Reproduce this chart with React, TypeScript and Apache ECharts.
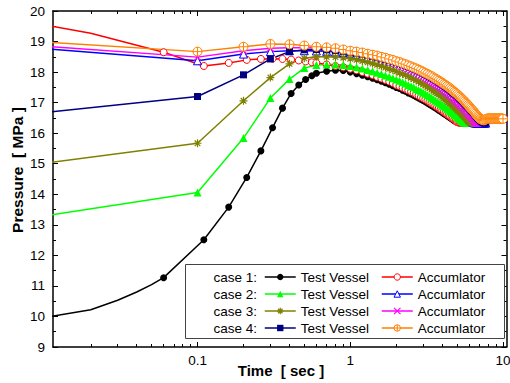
import React, { useEffect, useRef } from 'react';
import * as echarts from 'echarts';

type Pt = [number, number];

// x range of the plot (log axis)
const X_MIN = 0.01132;
const X_MAX = 10.54;
const majorXTicks = [0.1, 1, 10];
const minorXTicks = [
  0.02, 0.03, 0.04, 0.05, 0.06, 0.07, 0.08, 0.09,
  0.2, 0.3, 0.4, 0.5, 0.6, 0.7, 0.8, 0.9,
  2, 3, 4, 5, 6, 7, 8, 9,
];

// shared sampling times (s) of the slow part of every curve
const lateTimes = [
  0.6, 0.7, 0.8, 0.9, 1.0, 1.1, 1.2, 1.3, 1.4, 1.5, 1.6, 1.7, 1.8, 1.9, 2.0,
  2.1, 2.2, 2.3, 2.4, 2.5, 2.6, 2.7, 2.8, 2.9, 3.0,
  3.1, 3.2, 3.3, 3.4, 3.5, 3.6, 3.7, 3.8, 3.9, 4.0,
  4.1, 4.2, 4.3, 4.4, 4.5, 4.6, 4.7, 4.8, 4.9, 5.0,
  5.1, 5.2, 5.3, 5.4, 5.5, 5.6, 5.7, 5.8, 5.9, 6.0,
  6.1, 6.2, 6.3, 6.4, 6.5, 6.6, 6.7, 6.8, 6.9, 7.0,
  7.1, 7.2, 7.3, 7.4, 7.5, 7.6, 7.7, 7.8,
  7.9, 8.0, 8.1, 8.2, 8.3, 8.4, 8.5, 8.6, 8.7, 8.8, 8.9, 9.0,
  9.1, 9.2, 9.3, 9.4, 9.5, 9.6, 9.7, 9.8, 9.9, 10.0,
];

// case 1 – test vessel
const c1TvEarly: Pt[] = [[0.01, 9.97], [0.02, 10.22], [0.03, 10.53], [0.04, 10.8], [0.05, 11.04], [0.06, 11.27], [0.11, 12.51], [0.16, 13.58], [0.21, 14.55], [0.26, 15.42], [0.31, 16.18], [0.36, 16.82], [0.41, 17.3], [0.46, 17.58], [0.51, 17.76], [0.56, 17.88]];
const c1TvNoMark = [0.01, 0.02, 0.03, 0.04, 0.05];
const c1TvLate = [
  17.96, 18.03, 18.06, 18.05, 18.0, 17.95, 17.9, 17.85, 17.8, 17.75, 17.7, 17.65, 17.6, 17.55, 17.5,
  17.46, 17.41, 17.37, 17.32, 17.28, 17.24, 17.19, 17.15, 17.11, 17.07,
  17.03, 16.99, 16.95, 16.91, 16.87, 16.83, 16.79, 16.75, 16.72, 16.68,
  16.64, 16.61, 16.57, 16.54, 16.51, 16.47, 16.44, 16.41, 16.38, 16.36,
  16.35, 16.34, 16.33, 16.33, 16.33, 16.33, 16.33, 16.33, 16.33, 16.33,
  16.33, 16.33, 16.33, 16.33, 16.33, 16.33, 16.33, 16.33, 16.33, 16.33,
  16.33, 16.33, 16.33, 16.33, 16.33, 16.33, 16.33, 16.47,
  16.48, 16.48, 16.48, 16.48, 16.48, 16.48, 16.48, 16.48, 16.48, 16.48, 16.48, 16.48,
  16.48, 16.48, 16.48, 16.48, 16.48, 16.48, 16.48, 16.48, 16.48, 16.48,
];

// case 1 – accumulator
const c1AccEarly: Pt[] = [[0.01, 19.54], [0.02, 19.27], [0.06, 18.65], [0.11, 18.2], [0.16, 18.3], [0.21, 18.4], [0.26, 18.43], [0.31, 18.44], [0.36, 18.43], [0.41, 18.41], [0.46, 18.38], [0.51, 18.35], [0.56, 18.32]];
const c1AccNoMark = [0.01, 0.02];
const c1AccLate = [
  18.3, 18.25, 18.2, 18.16, 18.11, 18.06, 18.0, 17.95, 17.9, 17.84, 17.79, 17.74, 17.69, 17.64, 17.58,
  17.54, 17.49, 17.45, 17.4, 17.36, 17.32, 17.27, 17.23, 17.18, 17.14,
  17.1, 17.06, 17.02, 16.98, 16.94, 16.9, 16.86, 16.82, 16.78, 16.74,
  16.7, 16.66, 16.62, 16.59, 16.55, 16.51, 16.48, 16.44, 16.4, 16.37,
  16.35, 16.34, 16.33, 16.33, 16.33, 16.33, 16.33, 16.33, 16.33, 16.33,
  16.33, 16.33, 16.33, 16.33, 16.33, 16.33, 16.33, 16.33, 16.33, 16.33,
  16.33, 16.33, 16.33, 16.33, 16.33, 16.33, 16.33, 16.47,
  16.48, 16.48, 16.48, 16.48, 16.48, 16.48, 16.48, 16.48, 16.48, 16.48, 16.48, 16.48,
  16.48, 16.48, 16.48, 16.48, 16.48, 16.48, 16.48, 16.48, 16.48, 16.48,
];

// case 2 – test vessel
const c2TvEarly: Pt[] = [[0.01, 13.29], [0.1, 14.06], [0.2, 15.84], [0.3, 17.15], [0.4, 17.77], [0.5, 18.13]];
const c2TvLate = [
  18.23, 18.25, 18.25, 18.23, 18.2, 18.16, 18.12, 18.07, 18.03, 17.98, 17.94, 17.89, 17.85, 17.8, 17.76,
  17.72, 17.67, 17.63, 17.58, 17.54, 17.5, 17.45, 17.41, 17.37, 17.33,
  17.29, 17.24, 17.2, 17.16, 17.12, 17.08, 17.04, 17.0, 16.96, 16.92,
  16.88, 16.85, 16.81, 16.77, 16.73, 16.69, 16.65, 16.61, 16.58, 16.54,
  16.5, 16.47, 16.43, 16.39, 16.36, 16.35, 16.34, 16.33, 16.33, 16.33,
  16.33, 16.33, 16.33, 16.33, 16.33, 16.33, 16.33, 16.33, 16.33, 16.33,
  16.33, 16.33, 16.33, 16.33, 16.33, 16.33, 16.33, 16.47,
  16.48, 16.48, 16.48, 16.48, 16.48, 16.48, 16.48, 16.48, 16.48, 16.48, 16.48, 16.48,
  16.48, 16.48, 16.48, 16.48, 16.48, 16.48, 16.48, 16.48, 16.48, 16.48,
];

// case 2 – accumulator
const c2AccEarly: Pt[] = [[0.01, 18.77], [0.1, 18.37], [0.2, 18.59], [0.3, 18.67], [0.4, 18.7], [0.5, 18.7]];
const c2AccLate = [
  18.69, 18.68, 18.66, 18.64, 18.62, 18.58, 18.54, 18.49, 18.45, 18.41, 18.37, 18.32, 18.28, 18.24, 18.2,
  18.16, 18.11, 18.07, 18.03, 17.98, 17.94, 17.9, 17.86, 17.81, 17.77,
  17.73, 17.68, 17.64, 17.6, 17.56, 17.51, 17.47, 17.43, 17.38, 17.34,
  17.3, 17.26, 17.21, 17.17, 17.13, 17.09, 17.04, 17.0, 16.96, 16.92,
  16.87, 16.83, 16.79, 16.74, 16.7, 16.66, 16.62, 16.58, 16.53, 16.49,
  16.45, 16.41, 16.37, 16.35, 16.34, 16.33, 16.33, 16.33, 16.33, 16.33,
  16.33, 16.33, 16.33, 16.33, 16.33, 16.33, 16.33, 16.47,
  16.48, 16.48, 16.48, 16.48, 16.48, 16.48, 16.48, 16.48, 16.48, 16.48, 16.48, 16.48,
  16.48, 16.48, 16.48, 16.48, 16.48, 16.48, 16.48, 16.48, 16.48, 16.48,
];

// case 3 – test vessel
const c3TvEarly: Pt[] = [[0.01, 15.02], [0.1, 15.67], [0.2, 17.06], [0.3, 17.82], [0.4, 18.27], [0.5, 18.45]];
const c3TvLate = [
  18.5, 18.5, 18.49, 18.47, 18.44, 18.4, 18.36, 18.32, 18.28, 18.24, 18.19, 18.15, 18.11, 18.07, 18.02,
  17.98, 17.94, 17.9, 17.86, 17.81, 17.77, 17.73, 17.69, 17.64, 17.6,
  17.56, 17.52, 17.48, 17.43, 17.39, 17.35, 17.31, 17.27, 17.23, 17.19,
  17.14, 17.1, 17.06, 17.02, 16.98, 16.94, 16.9, 16.85, 16.81, 16.77,
  16.73, 16.69, 16.65, 16.61, 16.57, 16.52, 16.48, 16.44, 16.4, 16.36,
  16.35, 16.34, 16.33, 16.33, 16.33, 16.33, 16.33, 16.33, 16.33, 16.33,
  16.33, 16.33, 16.33, 16.33, 16.33, 16.33, 16.33, 16.47,
  16.48, 16.48, 16.48, 16.48, 16.48, 16.48, 16.48, 16.48, 16.48, 16.48, 16.48, 16.48,
  16.48, 16.48, 16.48, 16.48, 16.48, 16.48, 16.48, 16.48, 16.48, 16.48,
];

// case 3 – accumulator
const c3AccEarly: Pt[] = [[0.01, 18.85], [0.1, 18.49], [0.2, 18.7], [0.3, 18.78], [0.4, 18.8], [0.5, 18.8]];
const c3AccLate = [
  18.79, 18.77, 18.75, 18.72, 18.69, 18.65, 18.61, 18.57, 18.52, 18.48, 18.44, 18.4, 18.36, 18.32, 18.28,
  18.24, 18.19, 18.15, 18.11, 18.07, 18.03, 17.99, 17.95, 17.9, 17.86,
  17.82, 17.78, 17.74, 17.69, 17.65, 17.61, 17.57, 17.53, 17.49, 17.45,
  17.4, 17.36, 17.32, 17.28, 17.24, 17.19, 17.15, 17.11, 17.07, 17.03,
  16.98, 16.94, 16.9, 16.86, 16.82, 16.78, 16.74, 16.69, 16.65, 16.61,
  16.57, 16.53, 16.48, 16.44, 16.4, 16.36, 16.35, 16.34, 16.33, 16.33,
  16.33, 16.33, 16.33, 16.33, 16.33, 16.33, 16.33, 16.47,
  16.48, 16.48, 16.48, 16.48, 16.48, 16.48, 16.48, 16.48, 16.48, 16.48, 16.48, 16.48,
  16.48, 16.48, 16.48, 16.48, 16.48, 16.48, 16.48, 16.48, 16.48, 16.48,
];

// case 4 – test vessel
const c4TvEarly: Pt[] = [[0.01, 16.68], [0.1, 17.2], [0.2, 17.91], [0.3, 18.43], [0.4, 18.67], [0.5, 18.73]];
const c4TvLate = [
  18.74, 18.73, 18.71, 18.68, 18.65, 18.62, 18.59, 18.56, 18.52, 18.49, 18.46, 18.42, 18.39, 18.36, 18.32,
  18.29, 18.25, 18.22, 18.18, 18.15, 18.11, 18.08, 18.04, 18.01, 17.97,
  17.93, 17.9, 17.86, 17.83, 17.79, 17.75, 17.72, 17.68, 17.65, 17.61,
  17.57, 17.53, 17.49, 17.46, 17.42, 17.38, 17.34, 17.3, 17.27, 17.23,
  17.19, 17.15, 17.11, 17.07, 17.03, 16.99, 16.95, 16.91, 16.87, 16.83,
  16.79, 16.75, 16.71, 16.67, 16.63, 16.59, 16.55, 16.51, 16.48, 16.45,
  16.42, 16.39, 16.37, 16.35, 16.34, 16.33, 16.33, 16.47,
  16.48, 16.48, 16.48, 16.48, 16.48, 16.48, 16.48, 16.48, 16.48, 16.48, 16.48, 16.48,
  16.48, 16.48, 16.48, 16.48, 16.48, 16.48, 16.48, 16.48, 16.48, 16.48,
];

// case 4 – accumulator
const c4AccEarly: Pt[] = [[0.01, 18.98], [0.1, 18.67], [0.2, 18.83], [0.3, 18.92], [0.4, 18.91], [0.5, 18.87]];
const c4AccLate = [
  18.83, 18.81, 18.78, 18.74, 18.7, 18.67, 18.64, 18.6, 18.57, 18.54, 18.5, 18.47, 18.43, 18.4, 18.36,
  18.33, 18.29, 18.26, 18.22, 18.19, 18.15, 18.12, 18.08, 18.05, 18.01,
  17.97, 17.94, 17.9, 17.87, 17.83, 17.79, 17.76, 17.72, 17.69, 17.65,
  17.61, 17.58, 17.54, 17.51, 17.47, 17.43, 17.39, 17.35, 17.32, 17.28,
  17.24, 17.2, 17.16, 17.12, 17.08, 17.04, 17.0, 16.96, 16.92, 16.88,
  16.84, 16.8, 16.76, 16.72, 16.68, 16.64, 16.6, 16.56, 16.53, 16.5,
  16.47, 16.45, 16.44, 16.43, 16.42, 16.44, 16.46, 16.47,
  16.48, 16.48, 16.48, 16.48, 16.48, 16.48, 16.48, 16.48, 16.48, 16.48, 16.48, 16.48,
  16.48, 16.48, 16.48, 16.48, 16.48, 16.48, 16.48, 16.48, 16.48, 16.47,
];

const caseLabels = ['case 1:', 'case 2:', 'case 3:', 'case 4:'];
const tvNames = ['c1tv', 'c2tv', 'c3tv', 'c4tv'];
const accNames = ['c1acc', 'c2acc', 'c3acc', 'c4acc'];

const FONT = 'Arial, "Liberation Sans", sans-serif';

const ASTERISK = 'path://M5,0L5,10M0,5L10,5M1.5,1.5L8.5,8.5M8.5,1.5L1.5,8.5';
const CROSS = 'path://M0,0L10,10M10,0L0,10';
const CIRCLE_PLUS = 'path://M0,5A5,5,0,1,1,10,5A5,5,0,1,1,0,5ZM5,0L5,10M0,5L10,5';

// marker styles per series (shared by plot and legend)
const styles: Record<string, any> = {
  c1tv: { color: '#000000', borderColor: '#000000', borderWidth: 0 },
  c1acc: { color: '#ffffff', borderColor: '#ff0000', borderWidth: 1 },
  c2tv: { color: '#00ff00', borderColor: '#00ff00', borderWidth: 0 },
  c2acc: { color: '#ffffff', borderColor: '#0000ff', borderWidth: 1 },
  c3tv: { color: '#808000', borderColor: '#808000', borderWidth: 1.2 },
  c3acc: { color: '#ff00ff', borderColor: '#ff00ff', borderWidth: 1.2 },
  c4tv: { color: '#000080', borderColor: '#000080', borderWidth: 0 },
  c4acc: { color: '#ffffff', borderColor: '#ff8000', borderWidth: 1 },
};
const lineColors: Record<string, string> = {
  c1tv: '#000000', c1acc: '#ff0000', c2tv: '#00ff00', c2acc: '#0000ff',
  c3tv: '#808000', c3acc: '#ff00ff', c4tv: '#000080', c4acc: '#ff8000',
};

function build(early: Pt[], noMark: number[], late: number[]) {
  const a = early.map(([t, p]) =>
    noMark.indexOf(t) >= 0 ? { value: [t, p], symbol: 'none' } : { value: [t, p] }
  );
  const b = lateTimes.map((t, i) => ({ value: [t, late[i]] }));
  return [...a, ...b];
}

function mkSeries(name: string, data: any[], symbol: string, size: number) {
  return {
    name,
    type: 'line',
    xAxisIndex: 0,
    yAxisIndex: 0,
    data,
    symbol,
    symbolSize: size,
    showAllSymbol: true,
    clip: true,
    lineStyle: { color: lineColors[name], width: 1.5 },
    itemStyle: styles[name],
    emphasis: { disabled: true },
  };
}

function legendItems(names: string[]) {
  return names.map((n) => ({
    name: n,
    itemStyle: styles[n],
    lineStyle: { color: lineColors[n], width: 1.5 },
  }));
}

export default function App() {
  const ref = useRef<HTMLDivElement>(null);
  useEffect(() => {
    if (!ref.current) return;
    const chart = echarts.init(ref.current, null, { renderer: 'svg' });
    const gridCommon = { min: X_MIN, max: X_MAX, type: 'log', logBase: 10, splitLine: { show: false }, gridIndex: 0 };
    const labelFmt = (v: number) => String(Number(v.toPrecision(3)));
    const legendCommon = {
      orient: 'vertical', top: 270, padding: 0,
      itemWidth: 31, itemHeight: 8, itemGap: 3, selectedMode: false,
      lineStyle: { width: 1.5 },
      textStyle: { color: '#000', fontSize: 13.5, fontFamily: FONT, lineHeight: 14 },
    };
    const option: any = {
      animation: false,
      backgroundColor: '#fff',
      grid: { left: 53, right: 3.5, top: 11, bottom: 36, containLabel: false, outerBoundsMode: 'none' },
      xAxis: [
        {
          ...gridCommon,
          position: 'bottom',
          axisLine: { show: true, onZero: false, lineStyle: { color: '#000', width: 1.5 } },
          axisTick: { show: true, inside: true, length: 5, customValues: majorXTicks, lineStyle: { color: '#000', width: 1 } },
          axisLabel: { show: true, customValues: majorXTicks, formatter: labelFmt, color: '#000', fontSize: 13.5, fontFamily: FONT, margin: 6 },
          minorTick: { show: false },
        },
        {
          ...gridCommon,
          position: 'bottom',
          axisLine: { show: false },
          axisTick: { show: true, inside: true, length: 3, customValues: minorXTicks, lineStyle: { color: '#000', width: 1 } },
          axisLabel: { show: false },
        },
        {
          ...gridCommon,
          position: 'top',
          axisLine: { show: true, onZero: false, lineStyle: { color: '#000', width: 1.5 } },
          axisTick: { show: true, inside: true, length: 5, customValues: majorXTicks, lineStyle: { color: '#000', width: 1 } },
          axisLabel: { show: false },
        },
        {
          ...gridCommon,
          position: 'top',
          axisLine: { show: false },
          axisTick: { show: true, inside: true, length: 3, customValues: minorXTicks, lineStyle: { color: '#000', width: 1 } },
          axisLabel: { show: false },
        },
      ],
      yAxis: [
        {
          type: 'value', min: 9, max: 20, interval: 1, position: 'left',
          axisLine: { show: true, onZero: false, lineStyle: { color: '#000', width: 1.5 } },
          axisTick: { show: true, inside: true, length: 5, lineStyle: { color: '#000', width: 1 } },
          minorTick: { show: true, splitNumber: 2, length: 3, lineStyle: { color: '#000', width: 1 } },
          axisLabel: { color: '#000', fontSize: 13.5, fontFamily: FONT, margin: 8 },
          splitLine: { show: false },
        },
        {
          type: 'value', min: 9, max: 20, interval: 1, position: 'right',
          axisLine: { show: true, onZero: false, lineStyle: { color: '#000', width: 1.5 } },
          axisTick: { show: true, inside: true, length: 5, lineStyle: { color: '#000', width: 1 } },
          minorTick: { show: true, splitNumber: 2, length: 3, lineStyle: { color: '#000', width: 1 } },
          axisLabel: { show: false },
          splitLine: { show: false },
        },
      ],
      legend: [
        { ...legendCommon, left: 264, data: legendItems(tvNames), formatter: () => 'Test Vessel' },
        { ...legendCommon, left: 381, data: legendItems(accNames), formatter: () => 'Accumlator' },
      ],
      graphic: [
        {
          type: 'rect', z: 1,
          shape: { x: 185.5, y: 264.5, width: 319, height: 74 },
          style: { fill: '#fff', stroke: '#444', lineWidth: 1 },
        },
        ...caseLabels.map((t, i) => ({
          type: 'text', z: 5, x: 257, y: 277 + i * 17,
          style: { text: t, align: 'right', verticalAlign: 'middle', fill: '#000', font: `13.5px ${FONT}` },
        })),
        {
          type: 'text', x: 281, y: 370,
          style: { text: 'Time  [ sec ]', align: 'center', verticalAlign: 'middle', fill: '#000', font: `bold 15px ${FONT}` },
        },
        {
          type: 'text', x: 17, y: 170, rotation: Math.PI / 2,
          style: { text: 'Pressure  [ MPa ]', align: 'center', verticalAlign: 'middle', fill: '#000', font: `bold 15.5px ${FONT}` },
        },
      ],
      series: [
        mkSeries('c1tv', build(c1TvEarly, c1TvNoMark, c1TvLate), 'circle', 7),
        mkSeries('c1acc', build(c1AccEarly, c1AccNoMark, c1AccLate), 'circle', 7),
        mkSeries('c2tv', build(c2TvEarly, [0.01], c2TvLate), 'triangle', 8),
        mkSeries('c2acc', build(c2AccEarly, [0.01], c2AccLate), 'triangle', 8),
        mkSeries('c3tv', build(c3TvEarly, [0.01], c3TvLate), ASTERISK, 8),
        mkSeries('c3acc', build(c3AccEarly, [0.01], c3AccLate), CROSS, 7),
        mkSeries('c4tv', build(c4TvEarly, [0.01], c4TvLate), 'rect', 7),
        mkSeries('c4acc', build(c4AccEarly, [0.01], c4AccLate), CIRCLE_PLUS, 9),
      ],
    };
    chart.setOption(option);
    return () => chart.dispose();
  }, []);
  return <div ref={ref} style={{ position: 'fixed', left: 0, top: 0, width: 510, height: 383 }} />;
}
